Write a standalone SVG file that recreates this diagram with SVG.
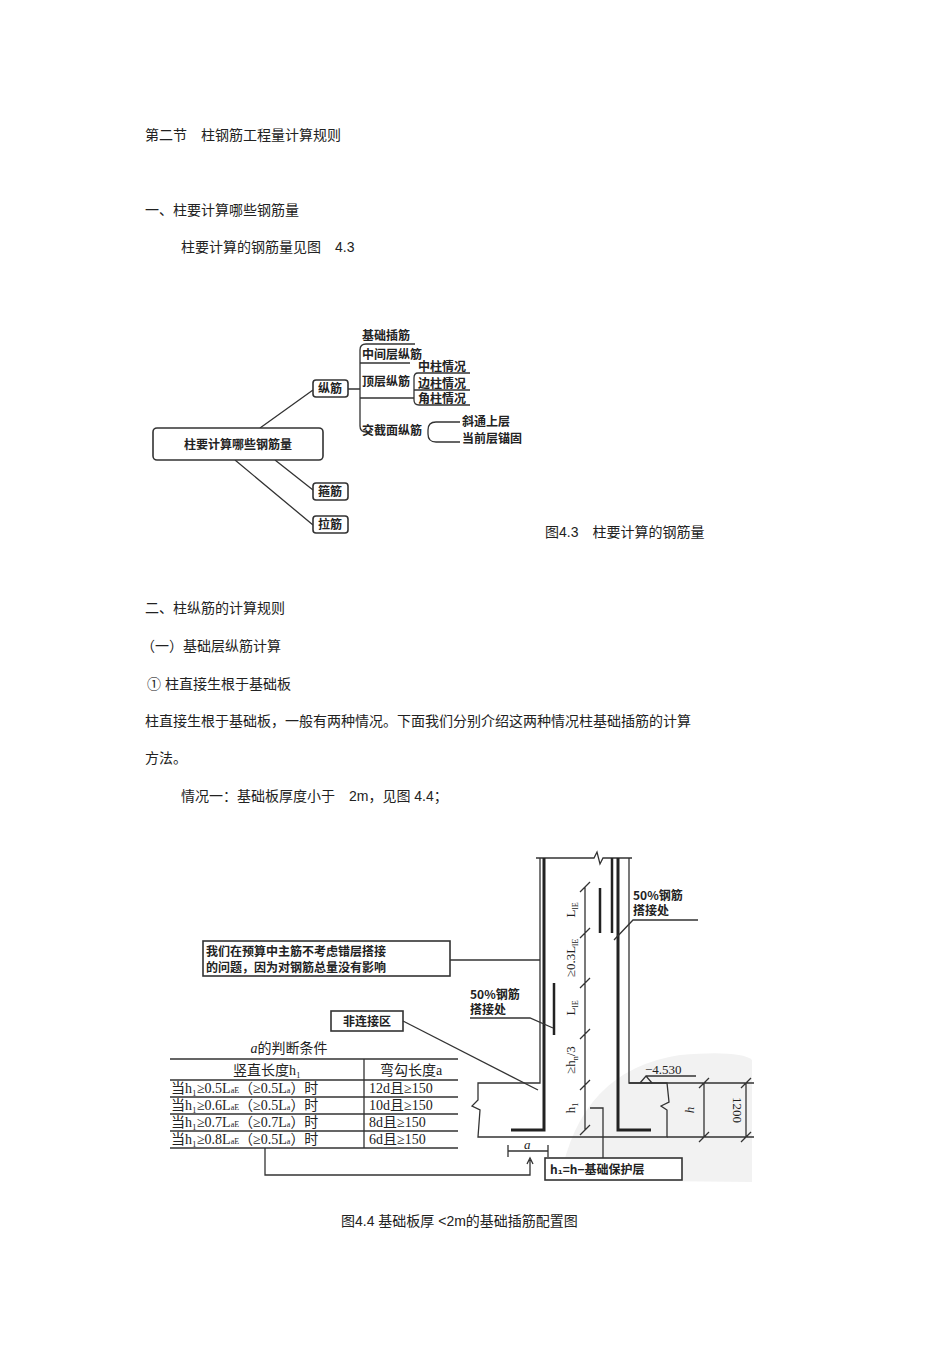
<svg xmlns="http://www.w3.org/2000/svg" width="950" height="1345" viewBox="0 0 950 1345">
<style>
.t{font-family:"Liberation Sans","Noto Sans CJK SC",sans-serif;font-size:14px;fill:#222}
.m{font-family:"Noto Sans CJK SC",sans-serif;font-size:12px;font-weight:bold;fill:#222}
.s{font-family:"Liberation Serif","Noto Sans CJK SC",serif;font-size:13px;fill:#222}
.r{font-family:"Liberation Serif","Noto Sans CJK SC",serif;font-size:14px;fill:#222}
.l{stroke:#333;stroke-width:1.3;fill:none}
.b{stroke:#222;stroke-width:3;fill:none}
.bx{stroke:#333;stroke-width:1.6;fill:#fff}
</style>
<rect width="950" height="1345" fill="#fff"/>
<g id="texts">
<text class="t" x="145" y="140">第二节　柱钢筋工程量计算规则</text>
<text class="t" x="145" y="215">一、柱要计算哪些钢筋量</text>
<text class="t" x="181" y="252">柱要计算的钢筋量见图　4.3</text>
<text class="t" x="545" y="537">图4.3　柱要计算的钢筋量</text>
<text class="t" x="145" y="613">二、柱纵筋的计算规则</text>
<text class="t" x="141" y="651">（一）基础层纵筋计算</text>
<text class="t" x="147" y="689">①  柱直接生根于基础板</text>
<text class="t" x="145" y="726">柱直接生根于基础板，一般有两种情况。下面我们分别介绍这两种情况柱基础插筋的计算</text>
<text class="t" x="145" y="763">方法。</text>
<text class="t" x="181" y="801">情况一：基础板厚度小于　2m，见图 4.4；</text>
<text class="t" x="341" y="1226">图4.4 基础板厚  &lt;2m的基础插筋配置图</text>
</g>
<g id="connectors">
<path class="l" d="M260 428 L313 390 M275 460 L313 490 M235 460 L313 525 M348 389 L360 389"/>
<path class="l" d="M415 344 L366 344 Q360 344 360 350 L360 426 Q360 432 366 432 L372 432"/>
<path class="l" d="M360 363 L410 363 M360 398 L414 398"/>
<path class="l" d="M470 373 L418 373 Q414 373 414 378 L414 400 Q414 405 419 405 L470 405 M414 390 L470 390"/>
<path class="l" d="M460 422 L436 422 Q428 422 428 430 L428 434 Q428 442 436 442 L460 442"/>
</g>
<g id="mindmap">
<rect class="bx" x="153" y="428" width="170" height="32" rx="4"/>
<text class="m" x="238" y="449" text-anchor="middle">柱要计算哪些钢筋量</text>
<rect class="bx" x="313" y="380" width="35" height="17" rx="3"/><text class="m" x="330" y="393" text-anchor="middle">纵筋</text>
<rect class="bx" x="313" y="483" width="35" height="17" rx="3"/><text class="m" x="330" y="496" text-anchor="middle">箍筋</text>
<rect class="bx" x="313" y="516" width="35" height="17" rx="3"/><text class="m" x="330" y="529" text-anchor="middle">拉筋</text>
<text class="m" x="362" y="340">基础插筋</text>
<text class="m" x="362" y="359">中间层纵筋</text>
<text class="m" x="362" y="386">顶层纵筋</text>
<text class="m" x="362" y="435">交截面纵筋</text>
<text class="m" x="418" y="371">中柱情况</text>
<text class="m" x="418" y="388">边柱情况</text>
<text class="m" x="418" y="403">角柱情况</text>
<text class="m" x="462" y="426">斜通上层</text>
<text class="m" x="462" y="443">当前层锚固</text>
</g>
<g id="watermark">
<path d="M560 1180 Q580 1070 680 1055 Q740 1050 752 1060 L752 1182 Z" fill="#f2f2f2"/>
</g>
<g id="structure">
<path class="l" d="M540 858 L540 1083 L478 1083 L478 1100 L472 1106 L480 1110 L478 1137 L667 1137 L667 1110 L661 1106 L669 1102 L667 1083 L629 1083 L629 858"/>
<path class="l" d="M536 858 L594 858 L597 852 L600 864 L603 858 L632 858"/>
<path class="b" d="M544 858 L544 1130 L511 1130 M618 858 L618 1130 L651 1130"/>
<path class="b" d="M554 983 L554 1035 M612 858 L612 933 M600 888 L600 933" style="stroke-width:2.5"/>
<path class="l" d="M585 887 L585 1130 M580 892 L590 882 M580 938 L590 928 M580 988 L590 978 M580 1039 L590 1029 M580 1090 L590 1080 M580 1135 L590 1125"/>
<text class="s" transform="translate(575 910) rotate(-90)" text-anchor="middle">L<tspan font-size="8" dy="3">lE</tspan></text>
<text class="s" transform="translate(575 958) rotate(-90)" text-anchor="middle">≥0.3L<tspan font-size="8" dy="3">lE</tspan></text>
<text class="s" transform="translate(575 1008) rotate(-90)" text-anchor="middle">L<tspan font-size="8" dy="3">lE</tspan></text>
<text class="s" transform="translate(575 1060) rotate(-90)" text-anchor="middle">≥h<tspan font-size="8" dy="3">n</tspan><tspan dy="-3">/3</tspan></text>
<text class="s" transform="translate(575 1108) rotate(-90)" text-anchor="middle">h<tspan font-size="8" dy="3">1</tspan></text>
<path class="l" d="M629 1083 L754 1083 M667 1137 L754 1137 M704 1083 L704 1137 M699 1088 L709 1078 M699 1142 L709 1132 M746 1083 L746 1137 M741 1088 L751 1078 M741 1142 L751 1132"/>
<text class="s" transform="translate(694 1110) rotate(-90)" text-anchor="middle" font-style="italic">h</text>
<text class="s" transform="translate(733 1110) rotate(90)" text-anchor="middle">1200</text>
<path class="l" d="M640 1083 L646 1076 L652 1083 M646 1076 L696 1076"/>
<text class="s" x="645" y="1074">−4.530</text>
<path class="l" d="M508 1145 L508 1157 M548 1145 L548 1157 M508 1151 L548 1151"/>
<text class="s" x="524" y="1149" font-style="italic">a</text>
</g>
<g id="labels">
<text class="m" x="633" y="900">50%钢筋</text><text class="m" x="633" y="915">搭接处</text>
<path class="l" d="M698 920 L633 920 L614 940"/>
<rect class="bx" x="203" y="941" width="247" height="35"/>
<text class="m" x="206" y="956">我们在预算中主筋不考虑错层搭接</text>
<text class="m" x="206" y="972">的问题，因为对钢筋总量没有影响</text>
<path class="l" d="M450 960 L540 960"/>
<text class="m" x="470" y="999">50%钢筋</text><text class="m" x="470" y="1014">搭接处</text>
<path class="l" d="M470 1018 L530 1018 L553 1028"/>
<rect class="bx" x="331" y="1011" width="72" height="20"/>
<text class="m" x="367" y="1026" text-anchor="middle">非连接区</text>
<path class="l" d="M403 1021 L538 1090"/>
<rect class="bx" x="545" y="1158" width="137" height="22"/>
<text class="m" x="550" y="1174">h₁=h−基础保护层</text>
<path class="l" d="M603 1158 L603 1108 L590 1108"/>
</g>
<g id="table">
<text class="r" x="289" y="1053" text-anchor="middle"><tspan font-style="italic">a</tspan>的判断条件</text>
<path class="l" d="M170 1059 L458 1059 M170 1080 L458 1080 M170 1097 L458 1097 M170 1114 L458 1114 M170 1131 L458 1131 M170 1148 L458 1148 M364 1059 L364 1148"/>
<text class="r" x="267" y="1075" text-anchor="middle">竖直长度h₁</text>
<text class="r" x="411" y="1075" text-anchor="middle">弯勾长度a</text>
<text class="r" x="171" y="1093">当h₁≥0.5L<tspan font-size="8">aE</tspan>（≥0.5L<tspan font-size="8">a</tspan>）时</text>
<text class="r" x="171" y="1110">当h₁≥0.6L<tspan font-size="8">aE</tspan>（≥0.5L<tspan font-size="8">a</tspan>）时</text>
<text class="r" x="171" y="1127">当h₁≥0.7L<tspan font-size="8">aE</tspan>（≥0.7L<tspan font-size="8">a</tspan>）时</text>
<text class="r" x="171" y="1144">当h₁≥0.8L<tspan font-size="8">aE</tspan>（≥0.5L<tspan font-size="8">a</tspan>）时</text>
<text class="r" x="369" y="1093">12d且≥150</text>
<text class="r" x="369" y="1110">10d且≥150</text>
<text class="r" x="369" y="1127">8d且≥150</text>
<text class="r" x="369" y="1144">6d且≥150</text>
<path class="l" d="M265 1148 L265 1175 L530 1175 L530 1160 M527 1164 L530 1158 L533 1164"/>
</g>
</svg>
